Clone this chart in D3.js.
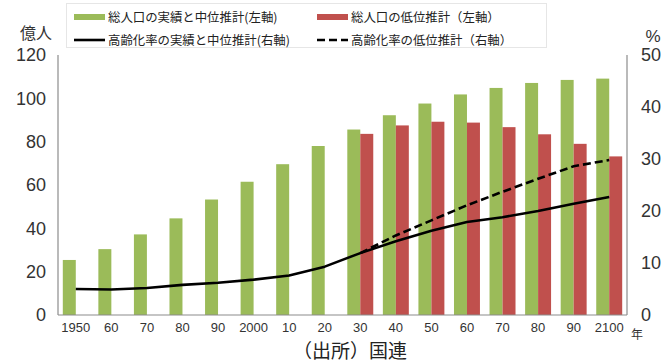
<!DOCTYPE html>
<html>
<head>
<meta charset="utf-8">
<script src="https://cdn.jsdelivr.net/npm/d3@7"></script>
<style>
  html, body { margin: 0; padding: 0; background: #fff; }
  svg { display: block; }
</style>
</head>
<body>
<svg id="chart" width="668" height="361"></svg>
<script>
// World population (億人) and share aged 65+ (%), medium and low variants
const years = ["1950","1960","1970","1980","1990","2000","2010","2020","2030","2040","2050","2060","2070","2080","2090","2100"];
const yearLabels = ["1950","60","70","80","90","2000","10","20","30","40","50","60","70","80","90","2100"];
const popMedium = [25.4, 30.4, 37.2, 44.6, 53.3, 61.5, 69.6, 78.0, 85.6, 92.2, 97.6, 101.8, 104.8, 107.1, 108.5, 109.1];
const popLow = [null, null, null, null, null, null, null, null, 83.6, 87.5, 89.2, 88.8, 86.7, 83.4, 79.0, 73.2];
const agedMedium = [5.0, 4.9, 5.2, 5.8, 6.2, 6.8, 7.6, 9.3, 11.9, 14.2, 16.2, 17.9, 18.8, 20.0, 21.4, 22.7];
const agedLow = [null, null, null, null, null, null, null, null, 11.9, 15.3, 18.2, 21.1, 23.7, 26.2, 28.6, 29.8];
const leftTicks = [0, 20, 40, 60, 80, 100, 120];
const rightTicks = [0, 10, 20, 30, 40, 50];

const GREEN = "#9BBB59", RED = "#C0504D";
const svg = d3.select("#chart");
const plot = { left: 58, right: 627, top: 55, bottom: 315 };

const x = d3.scaleBand().domain(years).range([plot.left, plot.right]).paddingInner(0.27).paddingOuter(0.135);
const sub = d3.scaleBand().domain(["medium", "low"]).range([0, x.bandwidth()]);
const yL = d3.scaleLinear().domain([0, 120]).range([plot.bottom, plot.top]);
const yR = d3.scaleLinear().domain([0, 50]).range([plot.bottom, plot.top]);

// Legend frame
svg.append("rect").attr("x", 66.5).attr("y", 3.5).attr("width", 480).attr("height", 44)
  .attr("fill", "#fff").attr("stroke", "#e6e6e6");

// Bars
const gBars = svg.append("g");
gBars.selectAll("rect.med").data(years).join("rect").attr("class", "med")
  .attr("x", d => x(d) + sub("medium"))
  .attr("width", sub.bandwidth())
  .attr("y", (d, i) => yL(popMedium[i]))
  .attr("height", (d, i) => yL(0) - yL(popMedium[i]))
  .attr("fill", GREEN);
gBars.selectAll("rect.low").data(years.filter((d, i) => popLow[i] != null)).join("rect").attr("class", "low")
  .attr("x", d => x(d) + sub("low"))
  .attr("width", sub.bandwidth())
  .attr("y", d => yL(popLow[years.indexOf(d)]))
  .attr("height", d => yL(0) - yL(popLow[years.indexOf(d)]))
  .attr("fill", RED);

// Lines (right axis)
const cx = d => x(d) + x.bandwidth() / 2;
const lineGen = d3.line().defined(d => d[1] != null).x(d => cx(d[0])).y(d => yR(d[1]));
svg.append("path").datum(years.map((d, i) => [d, agedLow[i]]))
  .attr("d", lineGen).attr("fill", "none").attr("stroke", "#000")
  .attr("stroke-width", 2.6).attr("stroke-dasharray", "8,4");
svg.append("path").datum(years.map((d, i) => [d, agedMedium[i]]))
  .attr("d", lineGen).attr("fill", "none").attr("stroke", "#000")
  .attr("stroke-width", 2.6).attr("stroke-linejoin", "round");

// Axes
const axisColor = "#8c8c8c";
const numFont = "'Liberation Sans', Arial, sans-serif";
const jpFont = "'Noto Sans CJK JP', 'Noto Sans', sans-serif";

const leftAxis = svg.append("g").attr("transform", `translate(${plot.left},0)`)
  .call(d3.axisLeft(yL).tickValues(leftTicks).tickSize(0).tickPadding(12));
const rightAxis = svg.append("g").attr("transform", `translate(${plot.right},0)`)
  .call(d3.axisRight(yR).tickValues(rightTicks).tickSize(0).tickPadding(14));
const bottomAxis = svg.append("g").attr("transform", `translate(0,${plot.bottom})`)
  .call(d3.axisBottom(x).tickSize(0).tickPadding(8).tickFormat((d, i) => yearLabels[i]));

[leftAxis, rightAxis, bottomAxis].forEach(g => {
  g.select(".domain").attr("stroke", axisColor).attr("stroke-width", 1.2);
  g.selectAll("text").attr("fill", "#333").attr("font-family", numFont);
});
leftAxis.selectAll("text").attr("font-size", 18);
rightAxis.selectAll("text").attr("font-size", 18);
bottomAxis.selectAll("text").attr("font-size", 13);
bottomAxis.select(".domain").attr("d", `M${plot.left},0H${plot.right}`);
leftAxis.select(".domain").attr("d", `M0,${plot.top}V${plot.bottom}`);
rightAxis.select(".domain").attr("d", `M0,${plot.top}V${plot.bottom}`);

// Unit labels
svg.append("text").attr("x", 36).attr("y", 32).attr("text-anchor", "middle")
  .attr("dominant-baseline", "central").attr("font-family", jpFont).attr("font-size", 16)
  .attr("fill", "#333").text("億人");
svg.append("text").attr("x", 653).attr("y", 36).attr("text-anchor", "middle")
  .attr("dominant-baseline", "central").attr("font-family", numFont).attr("font-size", 17)
  .attr("fill", "#333").text("%");
svg.append("text").attr("x", 637).attr("y", 333).attr("text-anchor", "middle")
  .attr("dominant-baseline", "central").attr("font-family", jpFont).attr("font-size", 12)
  .attr("fill", "#333").text("年");
svg.append("text").attr("x", 350).attr("y", 349).attr("text-anchor", "middle")
  .attr("dominant-baseline", "central").attr("font-family", jpFont).attr("font-size", 19)
  .attr("fill", "#222").text("（出所）国連");

// Legend
const legend = [
  { x: 74, y: 17, type: "bar", color: GREEN, label: "総人口の実績と中位推計(左軸)" },
  { x: 317, y: 17, type: "bar", color: RED, label: "総人口の低位推計（左軸）" },
  { x: 74, y: 40, type: "line", dash: null, label: "高齢化率の実績と中位推計(右軸)" },
  { x: 317, y: 40, type: "line", dash: "8,4", label: "高齢化率の低位推計（右軸）" }
];
const lg = svg.append("g").selectAll("g").data(legend).join("g")
  .attr("transform", d => `translate(${d.x},${d.y})`);
lg.filter(d => d.type === "bar").append("rect")
  .attr("x", 0).attr("y", -3).attr("width", 31).attr("height", 6).attr("fill", d => d.color);
lg.filter(d => d.type === "line").append("line")
  .attr("x1", 0).attr("x2", 31).attr("y1", 0).attr("y2", 0)
  .attr("stroke", "#000").attr("stroke-width", 2.6)
  .attr("stroke-dasharray", d => d.dash);
lg.append("text").attr("x", 34).attr("y", 0).attr("dominant-baseline", "central")
  .attr("font-family", jpFont).attr("font-size", 12.4).attr("fill", "#222")
  .text(d => d.label);
</script>
</body>
</html>
